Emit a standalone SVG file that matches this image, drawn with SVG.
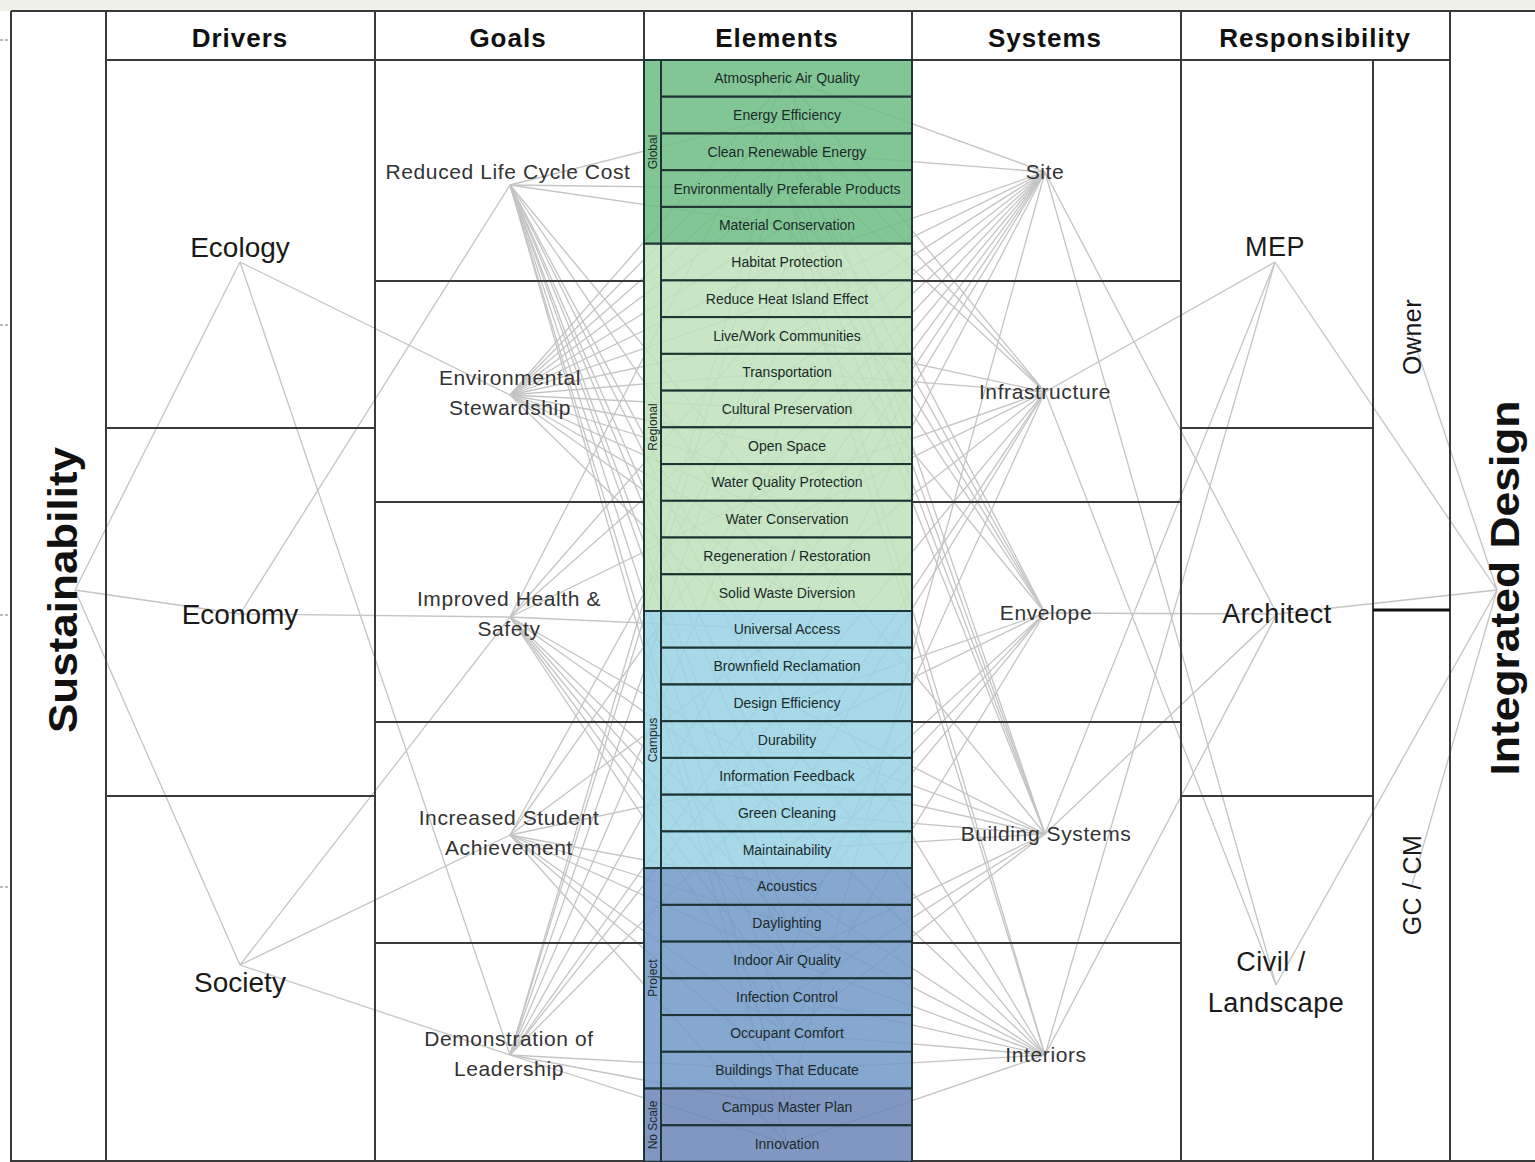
<svg xmlns="http://www.w3.org/2000/svg" width="1535" height="1162" viewBox="0 0 1535 1162">
<style>
.grid{stroke:#3a3a3a;stroke-width:2;fill:none}
.cn line{stroke:#c4c4c4;stroke-width:1.3}
text{font-family:"Liberation Sans",Arial,sans-serif;fill:#111}
.hdr{font-size:26px;font-weight:bold;text-anchor:middle;letter-spacing:1px}
.big{font-size:40px;font-weight:bold;text-anchor:middle}
.drv{font-size:28px;text-anchor:middle;fill:#1a1a1a}
.goal{font-size:21px;text-anchor:middle;fill:#333;letter-spacing:0.6px}
.sys{font-size:21px;text-anchor:middle;fill:#333;letter-spacing:0.6px}
.resp{font-size:27px;text-anchor:middle;fill:#1a1a1a;letter-spacing:0.5px}
.el rect{stroke:#1f3535;stroke-width:2;fill-opacity:0.86}
.el text{font-size:14px;text-anchor:middle;fill:#1a2a2a}
.cat rect{stroke:#1f3535;stroke-width:2;fill-opacity:0.86}
.cat text{font-size:12px;text-anchor:middle;fill:#1a2a2a}
.g1{fill:#6fbd85}.g2{fill:#bfe2bb}.g3{fill:#98d3e5}.g4{fill:#7299c8}.g5{fill:#6b86b8}
</style>
<rect x="0" y="0" width="1535" height="1162" fill="#ffffff"/>
<rect x="0" y="0" width="1535" height="11" fill="#f1f1ec"/>
<g id="ticks" stroke="#777" stroke-width="1">
<line x1="0" y1="40" x2="9" y2="40" stroke-dasharray="3,2"/>
<line x1="0" y1="325" x2="9" y2="325" stroke-dasharray="3,2"/>
<line x1="0" y1="615" x2="9" y2="615" stroke-dasharray="3,2"/>
<line x1="0" y1="887" x2="9" y2="887" stroke-dasharray="3,2"/>
</g>

<g id="connectors" class="cn">
<line x1="75" y1="590" x2="240" y2="262"/>
<line x1="75" y1="590" x2="240" y2="614"/>
<line x1="75" y1="590" x2="240" y2="965"/>
<line x1="240" y1="262" x2="510" y2="395"/>
<line x1="240" y1="262" x2="510" y2="1055"/>
<line x1="240" y1="614" x2="510" y2="185"/>
<line x1="240" y1="614" x2="510" y2="617"/>
<line x1="240" y1="965" x2="510" y2="617"/>
<line x1="240" y1="965" x2="510" y2="835"/>
<line x1="240" y1="965" x2="510" y2="1055"/>
<line x1="510" y1="185" x2="787" y2="115.1"/>
<line x1="510" y1="185" x2="787" y2="188.6"/>
<line x1="510" y1="185" x2="787" y2="225.3"/>
<line x1="510" y1="185" x2="787" y2="519.1"/>
<line x1="510" y1="185" x2="787" y2="592.6"/>
<line x1="510" y1="185" x2="787" y2="702.8"/>
<line x1="510" y1="185" x2="787" y2="739.5"/>
<line x1="510" y1="185" x2="787" y2="813.0"/>
<line x1="510" y1="185" x2="787" y2="849.7"/>
<line x1="510" y1="185" x2="787" y2="923.2"/>
<line x1="510" y1="185" x2="787" y2="959.9"/>
<line x1="510" y1="185" x2="787" y2="1033.4"/>
<line x1="510" y1="185" x2="787" y2="1106.8"/>
<line x1="510" y1="185" x2="787" y2="1143.6"/>
<line x1="510" y1="395" x2="787" y2="78.4"/>
<line x1="510" y1="395" x2="787" y2="115.1"/>
<line x1="510" y1="395" x2="787" y2="151.8"/>
<line x1="510" y1="395" x2="787" y2="188.6"/>
<line x1="510" y1="395" x2="787" y2="225.3"/>
<line x1="510" y1="395" x2="787" y2="262.0"/>
<line x1="510" y1="395" x2="787" y2="298.8"/>
<line x1="510" y1="395" x2="787" y2="335.5"/>
<line x1="510" y1="395" x2="787" y2="372.2"/>
<line x1="510" y1="395" x2="787" y2="409.0"/>
<line x1="510" y1="395" x2="787" y2="445.7"/>
<line x1="510" y1="395" x2="787" y2="482.4"/>
<line x1="510" y1="395" x2="787" y2="519.1"/>
<line x1="510" y1="395" x2="787" y2="555.9"/>
<line x1="510" y1="395" x2="787" y2="592.6"/>
<line x1="510" y1="395" x2="787" y2="666.1"/>
<line x1="510" y1="617" x2="787" y2="78.4"/>
<line x1="510" y1="617" x2="787" y2="298.8"/>
<line x1="510" y1="617" x2="787" y2="372.2"/>
<line x1="510" y1="617" x2="787" y2="482.4"/>
<line x1="510" y1="617" x2="787" y2="629.3"/>
<line x1="510" y1="617" x2="787" y2="776.3"/>
<line x1="510" y1="617" x2="787" y2="813.0"/>
<line x1="510" y1="617" x2="787" y2="886.4"/>
<line x1="510" y1="617" x2="787" y2="923.2"/>
<line x1="510" y1="617" x2="787" y2="959.9"/>
<line x1="510" y1="617" x2="787" y2="996.6"/>
<line x1="510" y1="617" x2="787" y2="1033.4"/>
<line x1="510" y1="835" x2="787" y2="335.5"/>
<line x1="510" y1="835" x2="787" y2="445.7"/>
<line x1="510" y1="835" x2="787" y2="629.3"/>
<line x1="510" y1="835" x2="787" y2="776.3"/>
<line x1="510" y1="835" x2="787" y2="886.4"/>
<line x1="510" y1="835" x2="787" y2="923.2"/>
<line x1="510" y1="835" x2="787" y2="959.9"/>
<line x1="510" y1="835" x2="787" y2="1033.4"/>
<line x1="510" y1="835" x2="787" y2="1070.1"/>
<line x1="510" y1="835" x2="787" y2="1143.6"/>
<line x1="510" y1="1055" x2="787" y2="115.1"/>
<line x1="510" y1="1055" x2="787" y2="151.8"/>
<line x1="510" y1="1055" x2="787" y2="262.0"/>
<line x1="510" y1="1055" x2="787" y2="409.0"/>
<line x1="510" y1="1055" x2="787" y2="555.9"/>
<line x1="510" y1="1055" x2="787" y2="666.1"/>
<line x1="510" y1="1055" x2="787" y2="702.8"/>
<line x1="510" y1="1055" x2="787" y2="776.3"/>
<line x1="510" y1="1055" x2="787" y2="1070.1"/>
<line x1="510" y1="1055" x2="787" y2="1106.8"/>
<line x1="510" y1="1055" x2="787" y2="1143.6"/>
<line x1="1045" y1="172" x2="787" y2="78.4"/>
<line x1="1045" y1="172" x2="787" y2="151.8"/>
<line x1="1045" y1="172" x2="787" y2="262.0"/>
<line x1="1045" y1="172" x2="787" y2="298.8"/>
<line x1="1045" y1="172" x2="787" y2="335.5"/>
<line x1="1045" y1="172" x2="787" y2="372.2"/>
<line x1="1045" y1="172" x2="787" y2="409.0"/>
<line x1="1045" y1="172" x2="787" y2="445.7"/>
<line x1="1045" y1="172" x2="787" y2="482.4"/>
<line x1="1045" y1="172" x2="787" y2="519.1"/>
<line x1="1045" y1="172" x2="787" y2="555.9"/>
<line x1="1045" y1="172" x2="787" y2="592.6"/>
<line x1="1045" y1="172" x2="787" y2="666.1"/>
<line x1="1045" y1="172" x2="787" y2="1106.8"/>
<line x1="1045" y1="392" x2="787" y2="78.4"/>
<line x1="1045" y1="392" x2="787" y2="115.1"/>
<line x1="1045" y1="392" x2="787" y2="151.8"/>
<line x1="1045" y1="392" x2="787" y2="335.5"/>
<line x1="1045" y1="392" x2="787" y2="372.2"/>
<line x1="1045" y1="392" x2="787" y2="482.4"/>
<line x1="1045" y1="392" x2="787" y2="519.1"/>
<line x1="1045" y1="392" x2="787" y2="592.6"/>
<line x1="1045" y1="392" x2="787" y2="702.8"/>
<line x1="1045" y1="392" x2="787" y2="776.3"/>
<line x1="1045" y1="392" x2="787" y2="813.0"/>
<line x1="1045" y1="392" x2="787" y2="959.9"/>
<line x1="1045" y1="613" x2="787" y2="115.1"/>
<line x1="1045" y1="613" x2="787" y2="151.8"/>
<line x1="1045" y1="613" x2="787" y2="188.6"/>
<line x1="1045" y1="613" x2="787" y2="225.3"/>
<line x1="1045" y1="613" x2="787" y2="298.8"/>
<line x1="1045" y1="613" x2="787" y2="702.8"/>
<line x1="1045" y1="613" x2="787" y2="739.5"/>
<line x1="1045" y1="613" x2="787" y2="849.7"/>
<line x1="1045" y1="613" x2="787" y2="886.4"/>
<line x1="1045" y1="613" x2="787" y2="923.2"/>
<line x1="1045" y1="613" x2="787" y2="1033.4"/>
<line x1="1045" y1="834" x2="787" y2="78.4"/>
<line x1="1045" y1="834" x2="787" y2="115.1"/>
<line x1="1045" y1="834" x2="787" y2="151.8"/>
<line x1="1045" y1="834" x2="787" y2="188.6"/>
<line x1="1045" y1="834" x2="787" y2="519.1"/>
<line x1="1045" y1="834" x2="787" y2="702.8"/>
<line x1="1045" y1="834" x2="787" y2="739.5"/>
<line x1="1045" y1="834" x2="787" y2="776.3"/>
<line x1="1045" y1="834" x2="787" y2="813.0"/>
<line x1="1045" y1="834" x2="787" y2="849.7"/>
<line x1="1045" y1="834" x2="787" y2="959.9"/>
<line x1="1045" y1="834" x2="787" y2="996.6"/>
<line x1="1045" y1="834" x2="787" y2="1033.4"/>
<line x1="1045" y1="1055" x2="787" y2="188.6"/>
<line x1="1045" y1="1055" x2="787" y2="225.3"/>
<line x1="1045" y1="1055" x2="787" y2="629.3"/>
<line x1="1045" y1="1055" x2="787" y2="739.5"/>
<line x1="1045" y1="1055" x2="787" y2="813.0"/>
<line x1="1045" y1="1055" x2="787" y2="886.4"/>
<line x1="1045" y1="1055" x2="787" y2="923.2"/>
<line x1="1045" y1="1055" x2="787" y2="959.9"/>
<line x1="1045" y1="1055" x2="787" y2="996.6"/>
<line x1="1045" y1="1055" x2="787" y2="1033.4"/>
<line x1="1045" y1="1055" x2="787" y2="1070.1"/>
<line x1="1045" y1="1055" x2="787" y2="1143.6"/>
<line x1="1045" y1="172" x2="1276" y2="985"/>
<line x1="1045" y1="172" x2="1277" y2="614"/>
<line x1="1045" y1="392" x2="1275" y2="262"/>
<line x1="1045" y1="392" x2="1276" y2="985"/>
<line x1="1045" y1="613" x2="1277" y2="614"/>
<line x1="1045" y1="834" x2="1275" y2="262"/>
<line x1="1045" y1="834" x2="1277" y2="614"/>
<line x1="1045" y1="1055" x2="1277" y2="614"/>
<line x1="1045" y1="1055" x2="1275" y2="262"/>
<line x1="1275" y1="262" x2="1497" y2="590"/>
<line x1="1277" y1="614" x2="1497" y2="590"/>
<line x1="1276" y1="985" x2="1497" y2="590"/>
<line x1="1412" y1="335" x2="1497" y2="590"/>
<line x1="1412" y1="885" x2="1497" y2="590"/>
</g>

<g id="grid" class="grid">
<line x1="11" y1="11" x2="1535" y2="11"/>
<line x1="11" y1="11" x2="11" y2="1162"/>
<line x1="106" y1="11" x2="106" y2="1162"/>
<line x1="375" y1="11" x2="375" y2="1162"/>
<line x1="644" y1="11" x2="644" y2="1162"/>
<line x1="912" y1="11" x2="912" y2="1162"/>
<line x1="1181" y1="11" x2="1181" y2="1162"/>
<line x1="1450" y1="11" x2="1450" y2="1162"/>
<line x1="1373" y1="60" x2="1373" y2="1162"/>
<line x1="106" y1="60" x2="1450" y2="60"/>
<line x1="11" y1="1161" x2="1535" y2="1161"/>
<line x1="106" y1="428" x2="375" y2="428"/>
<line x1="106" y1="796" x2="375" y2="796"/>
<line x1="375" y1="281" x2="644" y2="281"/>
<line x1="375" y1="502" x2="644" y2="502"/>
<line x1="375" y1="722" x2="644" y2="722"/>
<line x1="375" y1="943" x2="644" y2="943"/>
<line x1="912" y1="281" x2="1181" y2="281"/>
<line x1="912" y1="502" x2="1181" y2="502"/>
<line x1="912" y1="722" x2="1181" y2="722"/>
<line x1="912" y1="943" x2="1181" y2="943"/>
<line x1="1181" y1="428" x2="1373" y2="428"/>
<line x1="1181" y1="796" x2="1373" y2="796"/>
<line x1="1373" y1="610" x2="1450" y2="610" stroke-width="3" stroke="#111"/>
</g>

<g id="headers">
<text class="hdr" x="240" y="47">Drivers</text>
<text class="hdr" x="508" y="47">Goals</text>
<text class="hdr" x="777" y="47">Elements</text>
<text class="hdr" x="1045" y="47">Systems</text>
<text class="hdr" x="1315" y="47">Responsibility</text>
</g>

<g id="sustainability"><text class="big" transform="translate(77,590) rotate(-90)" textLength="286" lengthAdjust="spacingAndGlyphs">Sustainability</text></g>
<g id="integrated-design"><text class="big" transform="translate(1519,588) rotate(-90)" textLength="375" lengthAdjust="spacingAndGlyphs">Integrated Design</text></g>

<g id="driver-ecology"><text class="drv" x="240" y="257">Ecology</text></g>
<g id="driver-economy"><text class="drv" x="240" y="624">Economy</text></g>
<g id="driver-society"><text class="drv" x="240" y="992">Society</text></g>

<g id="goal-rlcc"><text class="goal" x="508" y="179">Reduced Life Cycle Cost</text></g>
<g id="goal-env"><text class="goal" x="510" y="385">Environmental</text><text class="goal" x="510" y="415">Stewardship</text></g>
<g id="goal-health"><text class="goal" x="509" y="606">Improved Health &amp;</text><text class="goal" x="509" y="636">Safety</text></g>
<g id="goal-student"><text class="goal" x="509" y="825">Increased Student</text><text class="goal" x="509" y="855">Achievement</text></g>
<g id="goal-demo"><text class="goal" x="509" y="1046">Demonstration of</text><text class="goal" x="509" y="1076">Leadership</text></g>

<g id="sys-site"><text class="sys" x="1045" y="179">Site</text></g>
<g id="sys-infra"><text class="sys" x="1045" y="399">Infrastructure</text></g>
<g id="sys-envelope"><text class="sys" x="1046" y="620">Envelope</text></g>
<g id="sys-building"><text class="sys" x="1046" y="841">Building Systems</text></g>
<g id="sys-interiors"><text class="sys" x="1046" y="1062">Interiors</text></g>

<g id="resp-mep"><text class="resp" x="1275" y="256">MEP</text></g>
<g id="resp-architect"><text class="resp" x="1277" y="623">Architect</text></g>
<g id="resp-civil"><text class="resp" x="1271" y="971">Civil /</text><text class="resp" x="1276" y="1012">Landscape</text></g>
<g id="resp-owner"><text class="resp" transform="translate(1421,337) rotate(-90)" style="font-size:25px">Owner</text></g>
<g id="resp-gccm"><text class="resp" transform="translate(1421,885) rotate(-90)" style="font-size:25px">GC / CM</text></g>

<g id="categories" class="cat">
<g id="cat-global"><rect class="g1" x="644" y="60" width="17" height="183.7"/><text transform="translate(657,152) rotate(-90)">Global</text></g>
<g id="cat-regional"><rect class="g2" x="644" y="243.7" width="17" height="367.3"/><text transform="translate(657,427) rotate(-90)">Regional</text></g>
<g id="cat-campus"><rect class="g3" x="644" y="611" width="17" height="257.1"/><text transform="translate(657,740) rotate(-90)">Campus</text></g>
<g id="cat-project"><rect class="g4" x="644" y="868.1" width="17" height="220.4"/><text transform="translate(657,978) rotate(-90)">Project</text></g>
<g id="cat-noscale"><rect class="g5" x="644" y="1088.5" width="17" height="73.5"/><text transform="translate(657,1125) rotate(-90)">No Scale</text></g>
</g>

<g id="elements" class="el">
<g id="el-01"><rect class="g1" x="661" y="60" width="251" height="36.7"/><text x="787" y="83.4">Atmospheric Air Quality</text></g>
<g id="el-02"><rect class="g1" x="661" y="96.7" width="251" height="36.7"/><text x="787" y="120.1">Energy Efficiency</text></g>
<g id="el-03"><rect class="g1" x="661" y="133.5" width="251" height="36.7"/><text x="787" y="156.8">Clean Renewable Energy</text></g>
<g id="el-04"><rect class="g1" x="661" y="170.2" width="251" height="36.7"/><text x="787" y="193.6">Environmentally Preferable Products</text></g>
<g id="el-05"><rect class="g1" x="661" y="206.9" width="251" height="36.7"/><text x="787" y="230.3">Material Conservation</text></g>
<g id="el-06"><rect class="g2" x="661" y="243.7" width="251" height="36.7"/><text x="787" y="267.0">Habitat Protection</text></g>
<g id="el-07"><rect class="g2" x="661" y="280.4" width="251" height="36.7"/><text x="787" y="303.8">Reduce Heat Island Effect</text></g>
<g id="el-08"><rect class="g2" x="661" y="317.1" width="251" height="36.7"/><text x="787" y="340.5">Live/Work Communities</text></g>
<g id="el-09"><rect class="g2" x="661" y="353.9" width="251" height="36.7"/><text x="787" y="377.2">Transportation</text></g>
<g id="el-10"><rect class="g2" x="661" y="390.6" width="251" height="36.7"/><text x="787" y="414.0">Cultural Preservation</text></g>
<g id="el-11"><rect class="g2" x="661" y="427.3" width="251" height="36.7"/><text x="787" y="450.7">Open Space</text></g>
<g id="el-12"><rect class="g2" x="661" y="464.1" width="251" height="36.7"/><text x="787" y="487.4">Water Quality Protection</text></g>
<g id="el-13"><rect class="g2" x="661" y="500.8" width="251" height="36.7"/><text x="787" y="524.1">Water Conservation</text></g>
<g id="el-14"><rect class="g2" x="661" y="537.5" width="251" height="36.7"/><text x="787" y="560.9">Regeneration / Restoration</text></g>
<g id="el-15"><rect class="g2" x="661" y="574.3" width="251" height="36.7"/><text x="787" y="597.6">Solid Waste Diversion</text></g>
<g id="el-16"><rect class="g3" x="661" y="611" width="251" height="36.7"/><text x="787" y="634.3">Universal Access</text></g>
<g id="el-17"><rect class="g3" x="661" y="647.7" width="251" height="36.7"/><text x="787" y="671.1">Brownfield Reclamation</text></g>
<g id="el-18"><rect class="g3" x="661" y="684.5" width="251" height="36.7"/><text x="787" y="707.8">Design Efficiency</text></g>
<g id="el-19"><rect class="g3" x="661" y="721.2" width="251" height="36.7"/><text x="787" y="744.5">Durability</text></g>
<g id="el-20"><rect class="g3" x="661" y="757.9" width="251" height="36.7"/><text x="787" y="781.3">Information Feedback</text></g>
<g id="el-21"><rect class="g3" x="661" y="794.7" width="251" height="36.7"/><text x="787" y="818.0">Green Cleaning</text></g>
<g id="el-22"><rect class="g3" x="661" y="831.4" width="251" height="36.7"/><text x="787" y="854.7">Maintainability</text></g>
<g id="el-23"><rect class="g4" x="661" y="868.1" width="251" height="36.7"/><text x="787" y="891.4">Acoustics</text></g>
<g id="el-24"><rect class="g4" x="661" y="904.9" width="251" height="36.7"/><text x="787" y="928.2">Daylighting</text></g>
<g id="el-25"><rect class="g4" x="661" y="941.6" width="251" height="36.7"/><text x="787" y="964.9">Indoor Air Quality</text></g>
<g id="el-26"><rect class="g4" x="661" y="978.3" width="251" height="36.7"/><text x="787" y="1001.6">Infection Control</text></g>
<g id="el-27"><rect class="g4" x="661" y="1015.1" width="251" height="36.7"/><text x="787" y="1038.4">Occupant Comfort</text></g>
<g id="el-28"><rect class="g4" x="661" y="1051.8" width="251" height="36.7"/><text x="787" y="1075.1">Buildings That Educate</text></g>
<g id="el-29"><rect class="g5" x="661" y="1088.5" width="251" height="36.7"/><text x="787" y="1111.8">Campus Master Plan</text></g>
<g id="el-30"><rect class="g5" x="661" y="1125.3" width="251" height="36.7"/><text x="787" y="1148.6">Innovation</text></g>
</g>
</svg>
